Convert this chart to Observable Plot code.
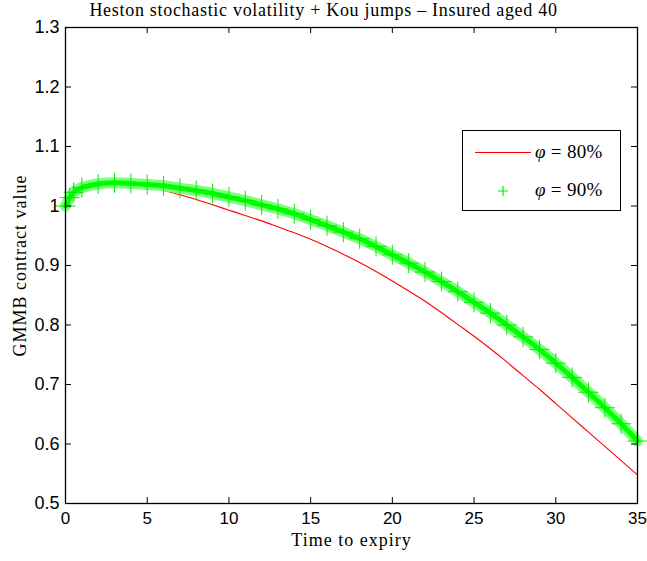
<!DOCTYPE html>
<html><head><meta charset="utf-8">
<script src="https://cdn.jsdelivr.net/npm/d3@7"></script>
<script src="https://cdn.jsdelivr.net/npm/@observablehq/plot@0.6"></script>
<style>
body{margin:0;background:#fff;}
#wrap{position:relative;width:647px;height:561px;overflow:hidden;}
#chart{position:absolute;left:0;top:0;}
#title{position:absolute;left:0;top:0;width:647px;text-align:center;font-family:"Liberation Serif",serif;font-size:18px;letter-spacing:0.7px;line-height:20px;color:#000;}
#legend{position:absolute;left:462px;top:130px;width:157px;height:79px;border:1.5px solid #000;background:#fff;font-family:"Liberation Serif",serif;font-size:19px;color:#000;}
.lt{position:absolute;left:72px;line-height:20px;white-space:nowrap;letter-spacing:0.3px;}
.lt i{font-style:italic;}
</style></head><body>
<div id="wrap">
<div id="chart"></div>
<div id="title">Heston stochastic volatility + Kou jumps – Insured aged 40</div>
<div id="legend">
  <div style="position:absolute;left:12px;top:21px;width:56px;height:0;border-top:1px solid #ff0000;"></div>
  <div class="lt" style="top:11px;"><i>φ</i> = 80%</div>
  <svg style="position:absolute;left:34px;top:54px;" width="12" height="12"><path d="M6,1V11M1,6H11" stroke="#00ee00" stroke-width="1.2"/></svg>
  <div class="lt" style="top:49px;"><i>φ</i> = 90%</div>
</div>
</div>
<script>
const times = [0,0.25,0.5,1,2,3,4,5,6,7,8,9,10,11,12,13,14,15,16,17,18,19,20,21,22,23,24,25,26,27,28,29,30,31,32,33,34,35];
const phi80 = [1.000,1.012,1.020,1.028,1.033,1.035,1.034,1.031,1.026,1.019,1.011,1.002,0.993,0.984,0.975,0.965,0.955,0.944,0.932,0.919,0.905,0.890,0.874,0.857,0.840,0.821,0.801,0.781,0.760,0.738,0.715,0.692,0.668,0.644,0.620,0.596,0.572,0.548];
const phi90 = [1.000,1.014,1.023,1.031,1.037,1.039,1.038,1.036,1.034,1.030,1.026,1.021,1.015,1.009,1.002,0.995,0.987,0.977,0.967,0.956,0.945,0.932,0.918,0.904,0.889,0.873,0.856,0.838,0.820,0.800,0.780,0.759,0.736,0.712,0.687,0.661,0.634,0.605];
const xTicks = [0,5,10,15,20,25,30,35];
const xTickLabels = ["0","5","10","15","20","25","30","35"];
const yTicks = [0.5,0.6,0.7,0.8,0.9,1.0,1.1,1.2,1.3];
const yTickLabels = ["0.5","0.6","0.7","0.8","0.9","1","1.1","1.2","1.3"];

const rows80 = times.map((t,i)=>({t, v: phi80[i]}));
const rows90 = times.map((t,i)=>({t, v: phi90[i]}));

const W=647, H=561, mL=65, mR=10, mT=27, mB=58;
const innerW=W-mL-mR, innerH=H-mT-mB;
const serif = "'Liberation Serif', serif";

const chart = Plot.plot({
  width: W, height: H,
  marginLeft: mL, marginRight: mR, marginTop: mT, marginBottom: mB,
  style: {fontFamily: "'Liberation Sans', Arial, sans-serif", fontSize: "18px", color: "#000", background: "#fff"},
  x: {domain: [0,35], label: null},
  y: {domain: [0.5,1.3], label: null},
  marks: [
    Plot.lineY(rows80, {x: "t", y: "v", stroke: "#ff0000", strokeWidth: 1.1, curve: "natural"}),
    Plot.lineY(rows90, {x: "t", y: "v", stroke: "#7dff7d", strokeWidth: 11, curve: "natural"}),
    Plot.lineY(rows90, {x: "t", y: "v", stroke: "#00ff00", strokeWidth: 5, curve: "natural"}),
    Plot.dot(rows90, {x: "t", y: "v", symbol: "plus", r: 6.5, stroke: "#00f000", strokeWidth: 1}),
    Plot.frame({stroke: "#000", strokeWidth: 1.3}),
    Plot.tickX(xTicks, {x: d=>d, insetTop: innerH-6, stroke: "#000"}),
    Plot.tickX(xTicks, {x: d=>d, insetBottom: innerH-6, stroke: "#000"}),
    Plot.tickY(yTicks, {y: d=>d, insetRight: innerW-6, stroke: "#000"}),
    Plot.tickY(yTicks, {y: d=>d, insetLeft: innerW-6, stroke: "#000"}),
    Plot.axisX(xTicks, {tickSize: 0, tickPadding: 8, fontSize: 17, tickFormat: d => xTickLabels[xTicks.indexOf(d)], label: null}),
    Plot.axisY(yTicks, {tickSize: 0, tickPadding: 6, tickFormat: d => yTickLabels[yTicks.indexOf(d)], label: null}),
    Plot.text(["GMMB contract value"], {text: d=>d, frameAnchor: "left", textAnchor: "middle", dx: -45, rotate: -90, fontFamily: serif, fontSize: 18, className: "axlab"}),
    Plot.text(["Time to expiry"], {text: d=>d, frameAnchor: "bottom", textAnchor: "middle", dy: 42, fontFamily: serif, fontSize: 18, className: "axlab"})
  ]
});
d3.select(chart).selectAll(".axlab text").style("letter-spacing", "1px");
document.getElementById("chart").appendChild(chart);
</script>
</body></html>
